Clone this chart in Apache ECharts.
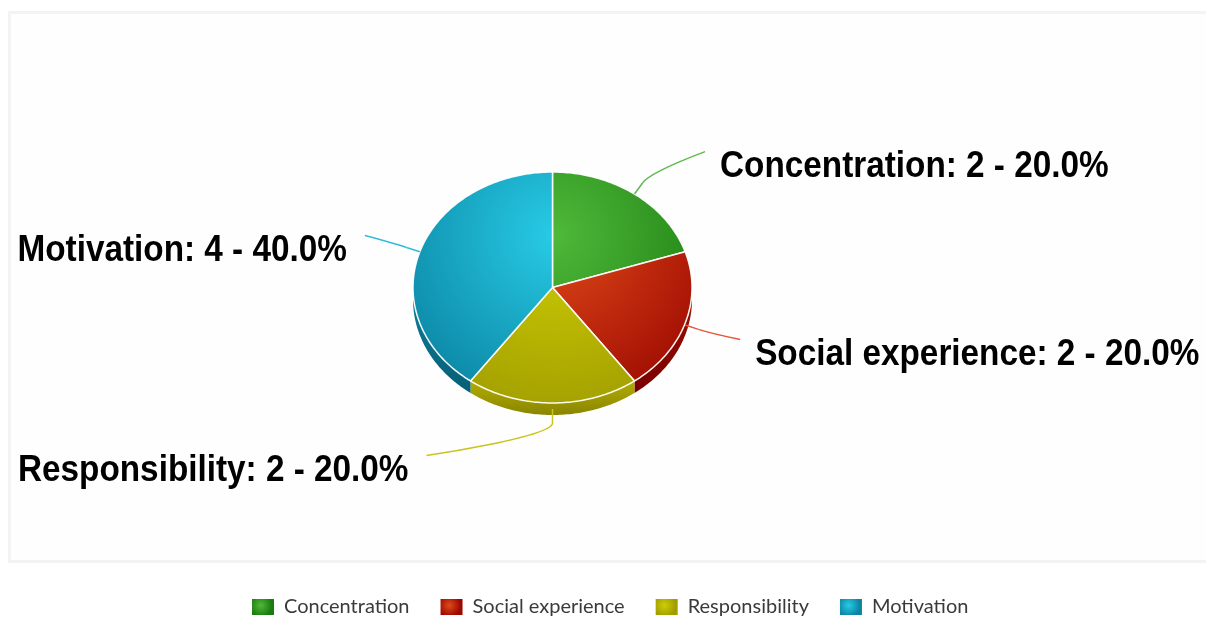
<!DOCTYPE html>
<html>
<head>
<meta charset="utf-8">
<script src="https://cdn.jsdelivr.net/npm/echarts@6/dist/echarts.min.js"></script>
<style>
  html, body { margin: 0; padding: 0; background: #ffffff; }
  #main { width: 1206px; height: 618px; }
</style>
</head>
<body>
<div id="main"></div>
<script>
// Survey answers
const categories = ['Concentration', 'Social experience', 'Responsibility', 'Motivation'];
const counts = [2, 2, 2, 4];

// Palette: face highlight, face shade, wall top, wall bottom, connector
const faceLight = ['#4fb93a', '#e04a1a', '#cfcd06', '#28cbe6'];
const faceDark  = ['#1a7b0f', '#9c0900', '#a19d00', '#0a84a2'];
const wallTop   = ['#1f8514', '#a01000', '#b3ad00', '#0e7f9b'];
const wallBot   = ['#14650b', '#780000', '#8a8500', '#065f76'];
const lineColor = ['#5fb84c', '#e0583a', '#c9c41c', '#33bcd9'];

// Tilted pie geometry
const PIE = { cx: 552.5, cy: 287.5, a: 139.5, b: 115.5, depth: 12 };
const LABEL = { ry: 168, px: 193, qx: 0.87, ext: 14, gapR: 15, gapL: 18, dy: 15 };

const total = counts.reduce((s, v) => s + v, 0);

function edge(t, dy) {
  return [PIE.cx + PIE.a * Math.sin(t), PIE.cy - PIE.b * Math.cos(t) + (dy || 0)];
}

function arc(t0, t1, dy) {
  const pts = [];
  const n = Math.max(2, Math.ceil((t1 - t0) / (Math.PI / 180)));
  for (let k = 0; k <= n; k++) pts.push(edge(t0 + (t1 - t0) * k / n, dy));
  return pts;
}

function makeRender(i) {
  return function (params, api) {
    const value = api.value(0);
    let before = 0;
    for (let k = 0; k < i; k++) before += counts[k];
    const t0 = before / total * Math.PI * 2;
    const t1 = (before + value) / total * Math.PI * 2;
    const tm = (t0 + t1) / 2;
    const children = [];

    // front wall (visible part of the rim: lower half of the ellipse)
    const s0 = Math.max(t0, Math.PI / 2), s1 = Math.min(t1, Math.PI * 1.5);
    if (s1 > s0) {
      const top = arc(s0, s1, 0);
      const bot = arc(s0, s1, PIE.depth).reverse();
      children.push({
        type: 'polygon', z2: 1,
        shape: { points: top.concat(bot) },
        style: {
          fill: new echarts.graphic.LinearGradient(0, 0, 0, 1, [
            { offset: 0, color: wallTop[i] }, { offset: 1, color: wallBot[i] }
          ]),
          stroke: null
        }
      });
    }

    // top face
    const face = [[PIE.cx, PIE.cy]].concat(arc(t0, t1, 0));
    children.push({
      type: 'polygon', z2: 10,
      shape: { points: face },
      style: {
        fill: new echarts.graphic.RadialGradient(555, 235, 190, [
          { offset: 0, color: faceLight[i] }, { offset: 1, color: faceDark[i] }
        ], true),
        stroke: 'rgba(255,255,255,0.95)',
        lineWidth: 1.5,
        lineJoin: 'round'
      }
    });

    // connector
    const side = Math.sin(tm) > 1e-6 ? 1 : -1;
    const E = edge(tm, PIE.depth * Math.max(0, -Math.cos(tm)) * 0.5);
    const ux = Math.sin(tm), uy = -Math.cos(tm);
    const B = [E[0] + LABEL.ext * ux, E[1] + LABEL.ext * uy];
    const ly = -LABEL.ry * Math.cos(tm);
    const lx = side * Math.sqrt(Math.max(0, LABEL.px * LABEL.px - LABEL.qx * LABEL.qx * ly * ly));
    const L = [PIE.cx + lx, PIE.cy + ly];
    children.push({
      type: 'bezierCurve', z2: 20,
      shape: {
        x1: L[0], y1: L[1], cpx1: L[0], cpy1: L[1],
        cpx2: 2 * B[0] - E[0], cpy2: 2 * B[1] - E[1], x2: B[0], y2: B[1]
      },
      style: { stroke: lineColor[i], lineWidth: 1.5, fill: null }
    });
    children.push({
      type: 'line', z2: 20,
      shape: { x1: B[0], y1: B[1], x2: E[0], y2: E[1] },
      style: { stroke: lineColor[i], lineWidth: 1.5 }
    });

    // label
    const pct = (value / total * 100).toFixed(1);
    children.push({
      type: 'text', z2: 30,
      x: L[0] + (side > 0 ? LABEL.gapR : -LABEL.gapL),
      y: L[1] + LABEL.dy,
      scaleX: 0.9,
      style: {
        text: categories[i] + ': ' + value + ' - ' + pct + '%',
        fontFamily: '"Liberation Sans", Arial, sans-serif',
        fontWeight: 'bold',
        fontSize: 37,
        fill: '#000000',
        align: side > 0 ? 'left' : 'right',
        verticalAlign: 'middle'
      }
    });

    return { type: 'group', children: children };
  };
}

const chart = echarts.init(document.getElementById('main'), null, { renderer: 'canvas' });

chart.setOption({
  animation: false,
  backgroundColor: '#ffffff',
  graphic: [{
    type: 'rect', silent: true, z: -1,
    shape: { x: 9.5, y: 12.5, width: 1210, height: 549 },
    style: { fill: '#fefefe', stroke: '#f3f3f3', lineWidth: 3 }
  }],
  legend: {
    top: 592,
    left: 247,
    itemWidth: 22,
    itemHeight: 16,
    itemGap: 31,
    icon: 'rect',
    selectedMode: false,
    textStyle: { fontFamily: 'Lato, sans-serif', fontSize: 20, color: '#3a3a3a', padding: [0, 0, 0, 5] },
    data: categories
  },
  series: categories.map((name, i) => ({
    type: 'custom',
    name: name,
    coordinateSystem: 'none',
    silent: true,
    color: new echarts.graphic.RadialGradient(0.4, 0.4, 0.7, [
      { offset: 0, color: faceLight[i] }, { offset: 1, color: faceDark[i] }
    ]),
    renderItem: makeRender(i),
    data: [[counts[i]]]
  }))
});
</script>
</body>
</html>
